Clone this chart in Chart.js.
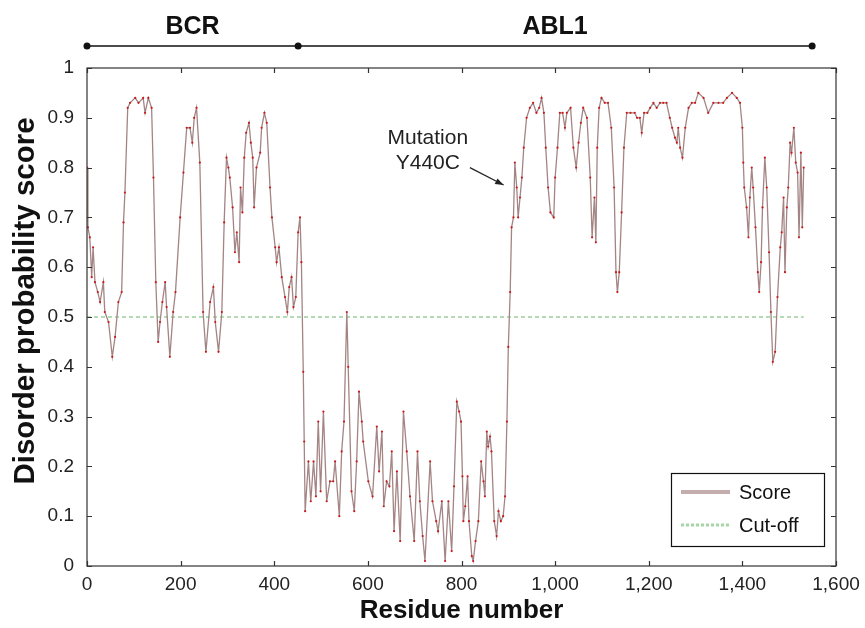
<!DOCTYPE html>
<html>
<head>
<meta charset="utf-8">
<script src="https://cdn.jsdelivr.net/npm/chart.js@4.4.1/dist/chart.umd.min.js"></script>
<style>
  html, body { margin: 0; padding: 0; background: #fff; }
</style>
</head>
<body>
<canvas id="chart" width="865" height="628"></canvas>
<script>
// Disorder profile (residue number / score)
const residues = [0, 2, 6, 10, 13, 17, 23, 28, 35, 38, 46, 54, 60, 67, 74, 78, 81, 87, 92, 103,
    110, 120, 124, 131, 138, 142, 147, 152, 156, 161, 167, 170, 177, 184, 189, 199, 206, 213, 220, 225,
    229, 234, 241, 248, 254, 263, 270, 274, 281, 288, 293, 298, 302, 305, 311, 316, 320, 325, 328, 332,
    336, 340, 346, 350, 354, 357, 362, 370, 373, 379, 384, 391, 395, 402, 405, 410, 416, 423, 428, 432,
    437, 441, 446, 451, 455, 458, 462, 464, 466, 473, 478, 484, 489, 494, 499, 505, 512, 519, 526, 530,
    539, 544, 549, 555, 558, 565, 571, 576, 581, 587, 590, 601, 610, 619, 624, 630, 634, 640, 646, 651,
    656, 662, 669, 676, 683, 690, 699, 706, 711, 717, 722, 733, 738, 746, 750, 758, 765, 772, 779, 784,
    790, 795, 799, 802, 804, 808, 813, 816, 822, 825, 830, 836, 842, 847, 850, 854, 857, 861, 864, 870,
    875, 879, 884, 889, 893, 897, 900, 904, 907, 911, 914, 918, 921, 925, 929, 933, 939, 946, 953, 960,
    966, 971, 976, 980, 985, 990, 997, 1000, 1005, 1010, 1016, 1021, 1025, 1033, 1039, 1045, 1050, 1055, 1060, 1068,
    1075, 1079, 1084, 1087, 1090, 1094, 1099, 1106, 1113, 1120, 1126, 1130, 1133, 1137, 1142, 1147, 1153, 1161, 1170, 1175,
    1181, 1185, 1190, 1197, 1203, 1210, 1217, 1224, 1231, 1238, 1245, 1250, 1256, 1260, 1263, 1267, 1272, 1278, 1285, 1292,
    1299, 1306, 1317, 1327, 1338, 1349, 1359, 1367, 1378, 1388, 1395, 1400, 1402, 1404, 1409, 1413, 1416, 1420, 1423, 1428,
    1433, 1436, 1440, 1443, 1448, 1452, 1457, 1461, 1465, 1470, 1475, 1481, 1484, 1488, 1491, 1495, 1498, 1502, 1505, 1510,
    1514, 1518, 1521, 1525, 1528, 1531];
const scores = [0.80, 0.68, 0.66, 0.58, 0.64, 0.57, 0.55, 0.53, 0.57, 0.51, 0.49, 0.42, 0.46, 0.53, 0.55, 0.69, 0.75, 0.92, 0.93, 0.94,
    0.93, 0.94, 0.91, 0.94, 0.92, 0.78, 0.57, 0.45, 0.49, 0.53, 0.57, 0.52, 0.42, 0.51, 0.55, 0.70, 0.79, 0.88, 0.88, 0.85,
    0.90, 0.92, 0.81, 0.51, 0.43, 0.53, 0.56, 0.49, 0.43, 0.51, 0.69, 0.82, 0.80, 0.78, 0.72, 0.63, 0.67, 0.61, 0.76, 0.71,
    0.82, 0.87, 0.89, 0.85, 0.82, 0.72, 0.80, 0.83, 0.88, 0.91, 0.89, 0.76, 0.70, 0.64, 0.61, 0.64, 0.58, 0.54, 0.51, 0.56,
    0.58, 0.52, 0.54, 0.67, 0.70, 0.61, 0.39, 0.25, 0.11, 0.21, 0.13, 0.21, 0.14, 0.29, 0.15, 0.31, 0.13, 0.17, 0.17, 0.21,
    0.10, 0.23, 0.29, 0.51, 0.40, 0.15, 0.11, 0.21, 0.35, 0.29, 0.25, 0.17, 0.14, 0.28, 0.19, 0.27, 0.12, 0.17, 0.16, 0.23,
    0.07, 0.19, 0.05, 0.31, 0.23, 0.14, 0.05, 0.23, 0.13, 0.06, 0.01, 0.21, 0.13, 0.09, 0.07, 0.13, 0.01, 0.13, 0.03, 0.16,
    0.33, 0.31, 0.29, 0.18, 0.09, 0.12, 0.18, 0.09, 0.02, 0.01, 0.05, 0.09, 0.21, 0.17, 0.14, 0.27, 0.24, 0.26, 0.23, 0.09,
    0.06, 0.11, 0.09, 0.10, 0.14, 0.29, 0.44, 0.55, 0.68, 0.70, 0.81, 0.76, 0.70, 0.74, 0.78, 0.84, 0.90, 0.92, 0.93, 0.91,
    0.92, 0.94, 0.91, 0.84, 0.76, 0.71, 0.70, 0.78, 0.84, 0.91, 0.91, 0.88, 0.91, 0.92, 0.84, 0.80, 0.85, 0.89, 0.92, 0.90,
    0.78, 0.66, 0.74, 0.65, 0.84, 0.92, 0.94, 0.93, 0.93, 0.88, 0.76, 0.59, 0.55, 0.59, 0.71, 0.84, 0.91, 0.91, 0.91, 0.90,
    0.90, 0.87, 0.91, 0.91, 0.92, 0.93, 0.92, 0.93, 0.93, 0.93, 0.90, 0.88, 0.86, 0.85, 0.88, 0.84, 0.82, 0.88, 0.92, 0.93,
    0.93, 0.95, 0.94, 0.91, 0.93, 0.93, 0.93, 0.94, 0.95, 0.94, 0.93, 0.88, 0.81, 0.76, 0.72, 0.66, 0.74, 0.80, 0.76, 0.68,
    0.59, 0.55, 0.61, 0.72, 0.82, 0.76, 0.63, 0.51, 0.41, 0.43, 0.54, 0.64, 0.67, 0.74, 0.59, 0.72, 0.76, 0.85, 0.83, 0.88,
    0.81, 0.79, 0.66, 0.83, 0.68, 0.80];

// Cut-off line
const cutoffX = [0, 1531];
const cutoffY = [0.5, 0.5];

// Domain bar above the plot
const domainNames = ['BCR', 'ABL1'];
const domainBounds = [0, 451, 1549];

// Mutation note
const noteLines = ['Mutation', 'Y440C'];
const noteText = [728, 0.86];
const noteArrowFrom = [818, 0.80];
const noteArrowTo = [890, 0.765];

const xMin = 0, xMax = 1600, xStep = 200;
const yMin = 0, yMax = 1, yStep = 0.1;
const yTitle = 'Disorder probability score';

const FONT = "'Liberation Sans', Arial, Helvetica, sans-serif";

// Frame, inward ticks, y title, domain bar, note and boxed legend
const extras = {
    id: 'extras',
    afterDatasetsDraw(chart) {
        const { ctx, chartArea: a, scales: { x, y } } = chart;
        ctx.save();

        // frame
        ctx.strokeStyle = '#333';
        ctx.lineWidth = 1.2;
        ctx.strokeRect(a.left, a.top, a.right - a.left, a.bottom - a.top);

        // ticks pointing inward
        ctx.beginPath();
        for (let v = xMin; v <= xMax; v += xStep) {
            const px = Math.round(x.getPixelForValue(v)) + 0.5;
            ctx.moveTo(px, a.bottom); ctx.lineTo(px, a.bottom - 5);
            ctx.moveTo(px, a.top); ctx.lineTo(px, a.top + 5);
        }
        for (let i = 0; i <= 10; i++) {
            const py = Math.round(y.getPixelForValue(yMin + i * yStep)) + 0.5;
            ctx.moveTo(a.left, py); ctx.lineTo(a.left + 5, py);
            ctx.moveTo(a.right, py); ctx.lineTo(a.right - 5, py);
        }
        ctx.stroke();

        // y axis title (sits a little above the plot centre in the original)
        ctx.save();
        ctx.translate(26, (a.top + a.bottom) / 2 - 16);
        ctx.rotate(-Math.PI / 2);
        ctx.font = 'bold 29.5px ' + FONT;
        ctx.fillStyle = '#111';
        ctx.textAlign = 'center';
        ctx.textBaseline = 'middle';
        ctx.fillText(yTitle, 0, 0);
        ctx.restore();

        // domain bar
        const barY = a.top - 22;
        ctx.strokeStyle = '#111';
        ctx.lineWidth = 1.5;
        ctx.beginPath();
        ctx.moveTo(x.getPixelForValue(domainBounds[0]), barY);
        ctx.lineTo(x.getPixelForValue(domainBounds[domainBounds.length - 1]), barY);
        ctx.stroke();
        ctx.fillStyle = '#111';
        domainBounds.forEach(b => {
            ctx.beginPath();
            ctx.arc(x.getPixelForValue(b), barY, 3.5, 0, Math.PI * 2);
            ctx.fill();
        });
        ctx.font = 'bold 25px ' + FONT;
        ctx.textAlign = 'center';
        ctx.textBaseline = 'middle';
        domainNames.forEach((n, i) => {
            const mid = (domainBounds[i] + domainBounds[i + 1]) / 2;
            ctx.fillText(n, x.getPixelForValue(mid), barY - 19);
        });

        // mutation note
        ctx.font = '21px ' + FONT;
        ctx.fillStyle = '#222';
        const tx = x.getPixelForValue(noteText[0]);
        const ty = y.getPixelForValue(noteText[1]);
        noteLines.forEach((t, i) => ctx.fillText(t, tx, ty + i * 25));
        const x1 = x.getPixelForValue(noteArrowFrom[0]), y1 = y.getPixelForValue(noteArrowFrom[1]);
        const x2 = x.getPixelForValue(noteArrowTo[0]), y2 = y.getPixelForValue(noteArrowTo[1]);
        ctx.strokeStyle = '#222';
        ctx.lineWidth = 1.2;
        ctx.beginPath(); ctx.moveTo(x1, y1); ctx.lineTo(x2, y2); ctx.stroke();
        const ang = Math.atan2(y2 - y1, x2 - x1);
        ctx.beginPath();
        ctx.moveTo(x2, y2);
        ctx.lineTo(x2 - 9 * Math.cos(ang - 0.35), y2 - 9 * Math.sin(ang - 0.35));
        ctx.lineTo(x2 - 9 * Math.cos(ang + 0.35), y2 - 9 * Math.sin(ang + 0.35));
        ctx.closePath();
        ctx.fill();

        // legend box
        const bw = 153, bh = 73;
        const bx = a.right - 12 - bw, by = a.bottom - 20 - bh;
        ctx.fillStyle = '#fff';
        ctx.fillRect(bx, by, bw, bh);
        ctx.strokeStyle = '#111';
        ctx.lineWidth = 1.2;
        ctx.strokeRect(bx + 0.5, by + 0.5, bw, bh);
        const rows = [
            { label: chart.data.datasets[0].label, color: '#c4adad', width: 4, dash: [] },
            { label: chart.data.datasets[1].label, color: '#a6d6a6', width: 3, dash: [3, 2] }
        ];
        ctx.font = '20px ' + FONT;
        ctx.textAlign = 'left';
        rows.forEach((r, i) => {
            const ry = by + 19 + i * 33;
            ctx.strokeStyle = r.color;
            ctx.lineWidth = r.width;
            ctx.setLineDash(r.dash);
            ctx.beginPath(); ctx.moveTo(bx + 10, ry); ctx.lineTo(bx + 59, ry); ctx.stroke();
            ctx.setLineDash([]);
            ctx.fillStyle = '#111';
            ctx.fillText(r.label, bx + 68, ry + 1);
        });
        ctx.restore();
    }
};

const ctx = document.getElementById('chart').getContext('2d');
new Chart(ctx, {
    type: 'line',
    data: {
        datasets: [{
            label: 'Score',
            data: residues.map((r, i) => ({ x: r, y: scores[i] })),
            borderColor: '#a48484',
            borderWidth: 1.3,
            pointRadius: 1.1,
            pointBackgroundColor: '#c81a1a',
            pointBorderWidth: 0,
            tension: 0,
            order: 1
        }, {
            label: 'Cut-off',
            data: cutoffX.map((v, i) => ({ x: v, y: cutoffY[i] })),
            borderColor: '#9ccf9c',
            borderWidth: 1.6,
            borderDash: [4, 3],
            pointRadius: 0,
            order: 2
        }]
    },
    options: {
        responsive: false,
        animation: false,
        layout: { padding: { top: 68, right: 29, left: 0, bottom: 0 } },
        plugins: { legend: { display: false }, tooltip: { enabled: false } },
        scales: {
            x: {
                type: 'linear',
                min: xMin, max: xMax,
                grid: { display: false },
                border: { display: false },
                ticks: {
                    stepSize: xStep,
                    padding: -1,
                    color: '#222',
                    font: { family: FONT, size: 19 },
                    maxRotation: 0,
                    callback: v => v.toLocaleString('en-US')
                },
                title: {
                    display: true,
                    text: 'Residue number',
                    color: '#111',
                    font: { family: FONT, size: 26, weight: 'bold' },
                    padding: { top: 0, bottom: 2 }
                },
                afterFit: s => { s.height = 62; }
            },
            y: {
                min: yMin, max: yMax,
                grid: { display: false },
                border: { display: false },
                ticks: {
                    stepSize: yStep,
                    padding: 5,
                    color: '#222',
                    font: { family: FONT, size: 19 },
                    callback: v => (v === 0 || v === 1) ? String(v) : v.toFixed(1)
                },
                afterFit: s => { s.width = 87; }
            }
        }
    },
    plugins: [extras]
});
</script>
</body>
</html>
